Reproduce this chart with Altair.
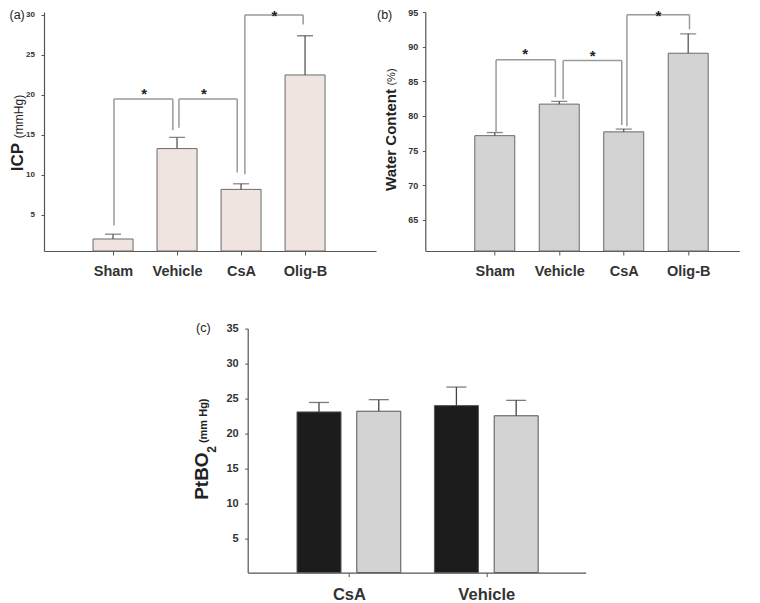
import json
import altair as alt
import pandas as pd

# ---------------- data ----------------
groups_ab = ["Sham", "Vehicle", "CsA", "Olig-B"]
icp_mean = [2.0, 13.3, 8.2, 22.5]
icp_err = [0.6, 1.4, 0.7, 4.9]
water_mean = [77.15, 81.7, 77.7, 89.05]
water_err = [0.45, 0.4, 0.4, 2.8]

groups_c = ["CsA", "Vehicle"]
ptbo2_black = [23.1, 24.0]
ptbo2_black_err = [1.35, 2.65]
ptbo2_gray = [23.2, 22.55]
ptbo2_gray_err = [1.65, 2.2]

# significance brackets: x-left, x-right (group index units), left foot, top, right foot
icp_br_xl = [1.015, 2.03, 3.06]
icp_br_xr = [1.935, 2.94, 3.97]
icp_br_yl = [3.7, 15.9, 10.1]
icp_br_top = [19.5, 19.5, 30.0]
icp_br_yr = [15.6, 10.3, 28.8]
icp_star_x = [1.485, 2.42, 3.52]
icp_star_y = [20.6, 20.6, 30.37]

wat_br_xl = [1.02, 2.06, 3.05]
wat_br_xr = [1.94, 2.97, 4.02]
wat_br_yl = [77.7, 82.4, 78.5]
wat_br_top = [88.1, 88.0, 94.6]
wat_br_yr = [82.7, 78.7, 92.5]
wat_star_x = [1.47, 2.52, 3.54]
wat_star_y = [89.5, 89.2, 95.0]

FONT = "Liberation Sans"
AXIS_C = "#555555"
LABEL_C = "#333333"
BRACKET_C = "#9a9a9a"


def segments(xl, xr, yl, top, yr):
    rows = []
    for a, b, c, d, e in zip(xl, xr, yl, top, yr):
        rows.append({"x": a, "x2": a, "y": c, "y2": d})
        rows.append({"x": a, "x2": b, "y": d, "y2": d})
        rows.append({"x": b, "x2": b, "y": d, "y2": e})
    return pd.DataFrame(rows)


def text_layer(txt, x, y, size, weight="normal", angle=0, align="center", color="#222222"):
    kw = dict(text=txt, fontSize=size, fontWeight=weight, font=FONT, align=align,
              baseline="middle", color=color)
    if angle:
        kw["angle"] = angle
    return alt.Chart(pd.DataFrame({"k": [0]})).mark_text(**kw).encode(
        x=alt.value(x), y=alt.value(y))


def anchor(x1, y1, x2, y2):
    # invisible layout guide that fixes the figure's top-left corner
    return alt.Chart(pd.DataFrame({"k": [0]})).mark_rule(opacity=0, strokeWidth=0.01).encode(
        x=alt.value(x1), x2=alt.value(x2), y=alt.value(y1), y2=alt.value(y2))


def bar_panel(groups, means, errs, ymin, ymax, yticks, xmax, fill,
              ylab_size, ylab_pad, brackets, stars_x, stars_y):
    df = pd.DataFrame({"group": groups, "pos": list(range(1, len(groups) + 1)),
                       "mean": means, "err": errs})
    df["top"] = df["mean"] + df["err"]
    lab_expr = json.dumps([""] + groups) + "[datum.value]"
    xs = alt.Scale(domain=[0, xmax], nice=False, zero=False)
    ys = alt.Scale(domain=[ymin, ymax], nice=False, zero=False)
    xax = alt.Axis(values=list(range(1, len(groups) + 1)), labelExpr=lab_expr, title=None,
                   grid=False, labelFont=FONT, labelFontSize=14.5, labelFontWeight="bold",
                   labelColor=LABEL_C, tickSize=4, labelPadding=9, domainColor=AXIS_C,
                   tickColor=AXIS_C, domainWidth=1.2, labelOverlap=False, tickCount=20)
    yax = alt.Axis(values=yticks, title=None, grid=False, labelFont=FONT,
                   labelFontSize=ylab_size, labelFontWeight="bold", labelColor=LABEL_C,
                   tickSize=3, labelPadding=ylab_pad, domainColor=AXIS_C, tickColor=AXIS_C,
                   domainWidth=1.2, labelOverlap=False, labelBound=False, tickCount=20)
    base = alt.Chart(df)
    bars = base.mark_bar(size=40, fill=fill, stroke="#6a6a6a", strokeWidth=1).encode(
        x=alt.X("pos:Q", scale=xs, axis=xax),
        y=alt.Y("mean:Q", scale=ys, axis=yax),
        y2=alt.datum(ymin))
    err = base.mark_rule(color=AXIS_C, strokeWidth=1.3).encode(
        x="pos:Q", y="mean:Q", y2="top:Q")
    cap = base.mark_tick(orient="horizontal", size=16, thickness=1.3, color=AXIS_C).encode(
        x="pos:Q", y="top:Q")
    br = alt.Chart(brackets).mark_rule(color=BRACKET_C, strokeWidth=1.5).encode(
        x="x:Q", x2="x2:Q", y="y:Q", y2="y2:Q")
    st = alt.Chart(pd.DataFrame({"x": stars_x, "y": stars_y})).mark_text(
        text="*", fontSize=15, fontWeight="bold", font=FONT, color="#222222",
        baseline="middle", dy=4).encode(x="x:Q", y="y:Q")
    return [bars, err, cap, br, st]


# ---------- panel (a) ----------
a_layers = bar_panel(groups_ab, icp_mean, icp_err, 0.5, 30.37, [5, 10, 15, 20, 25, 30],
                     5.03, "#f0e4e0", 8, 6.5,
                     segments(icp_br_xl, icp_br_xr, icp_br_yl, icp_br_top, icp_br_yr),
                     icp_star_x, icp_star_y)
a_layers += [
    anchor(-35, -3.7, 0, 0),
    text_layer("(a)", -34.5, 2.6, 12.5, align="left"),
    text_layer("ICP", -26.5, 145, 17, weight="bold", angle=270),
    text_layer("(mmHg)", -25, 104.5, 12, angle=270),
]
panel_a = alt.layer(*a_layers).properties(width=332, height=239)

# ---------- panel (b) ----------
b_layers = bar_panel(groups_ab, water_mean, water_err, 60.5, 95, [65, 70, 75, 80, 85, 90, 95],
                     4.715, "#d3d3d3", 9, 4.5,
                     segments(wat_br_xl, wat_br_xr, wat_br_yl, wat_br_top, wat_br_yr),
                     wat_star_x, wat_star_y)
b_layers += [
    text_layer("(b)", -48.3, 2.6, 12.5, align="left"),
    text_layer("Water Content", -34.4, 128, 15, weight="bold", angle=270),
    text_layer("(%)", -33.2, 65, 11, angle=270),
]
panel_b = alt.layer(*b_layers).properties(width=314, height=239)

# ---------- panel (c) ----------
rows = []
for i, g in enumerate(groups_c):
    rows.append({"group": g, "series": "black", "pos": i + 0.7 - 0.2175,
                 "mean": ptbo2_black[i], "top": ptbo2_black[i] + ptbo2_black_err[i]})
    rows.append({"group": g, "series": "gray", "pos": i + 0.7 + 0.2175,
                 "mean": ptbo2_gray[i], "top": ptbo2_gray[i] + ptbo2_gray_err[i]})
df_c = pd.DataFrame(rows)
c_ymin = 0.15
xs_c = alt.Scale(domain=[0, 2.387], nice=False, zero=False)
ys_c = alt.Scale(domain=[c_ymin, 35], nice=False, zero=False)
xax_c = alt.Axis(values=[0.7, 1.7], labelExpr=json.dumps(groups_c) + "[round(datum.value - 0.7)]",
                 title=None, grid=False, labelFont=FONT, labelFontSize=16.5, labelFontWeight="bold",
                 labelColor=LABEL_C, tickSize=4, labelPadding=10, domainColor=AXIS_C,
                 tickColor=AXIS_C, domainWidth=1.2, labelOverlap=False, tickCount=20)
yax_c = alt.Axis(values=[5, 10, 15, 20, 25, 30, 35], title=None, grid=False, labelFont=FONT,
                 labelFontSize=11, labelFontWeight="bold", labelColor=LABEL_C, tickSize=3,
                 labelPadding=6.5, domainColor=AXIS_C, tickColor=AXIS_C, domainWidth=1.2,
                 labelOverlap=False, labelBound=False, tickCount=20)
base_c = alt.Chart(df_c)
bars_c = base_c.mark_bar(size=44, stroke="#555555", strokeWidth=1).encode(
    x=alt.X("pos:Q", scale=xs_c, axis=xax_c),
    y=alt.Y("mean:Q", scale=ys_c, axis=yax_c),
    y2=alt.datum(c_ymin),
    fill=alt.Fill("series:N", scale=alt.Scale(domain=["black", "gray"],
                                              range=["#1c1c1c", "#d3d3d3"]), legend=None))
err_c = base_c.mark_rule(color="#444444", strokeWidth=1.3).encode(x="pos:Q", y="mean:Q", y2="top:Q")
cap_c = base_c.mark_tick(orient="horizontal", size=20, thickness=1.3, color="#444444").encode(
    x="pos:Q", y="top:Q")
panel_c = alt.layer(
    bars_c, err_c, cap_c,
    text_layer("(c)", -51.7, -0.3, 12.5, align="left"),
    text_layer("PtBO", -45.6, 147.5, 19, weight="bold", angle=270),
    text_layer("2", -35.5, 120.7, 12, weight="bold", angle=270),
    text_layer("(mm Hg)", -43.8, 92.2, 11, weight="bold", angle=270),
).properties(width=338, height=244)

spacer = alt.Chart(pd.DataFrame({"k": [0]})).mark_point(opacity=0, size=1).encode(
    x=alt.value(0), y=alt.value(0)).properties(width=200, height=244)

top = alt.hconcat(panel_a, panel_b, spacing=49.3, bounds="flush")
bottom = alt.hconcat(spacer, panel_c, spacing=3.7, bounds="flush")
# with flush bounds a nested row counts as zero height, so the spacing spans the top row too
chart = alt.vconcat(top, bottom, spacing=316.6, bounds="flush").properties(
    padding={"left": 0, "top": 0, "right": 0, "bottom": 0},
    background="white",
).configure_view(stroke=None)

chart.save("out.html", embed_options={"renderer": "svg", "actions": False})
